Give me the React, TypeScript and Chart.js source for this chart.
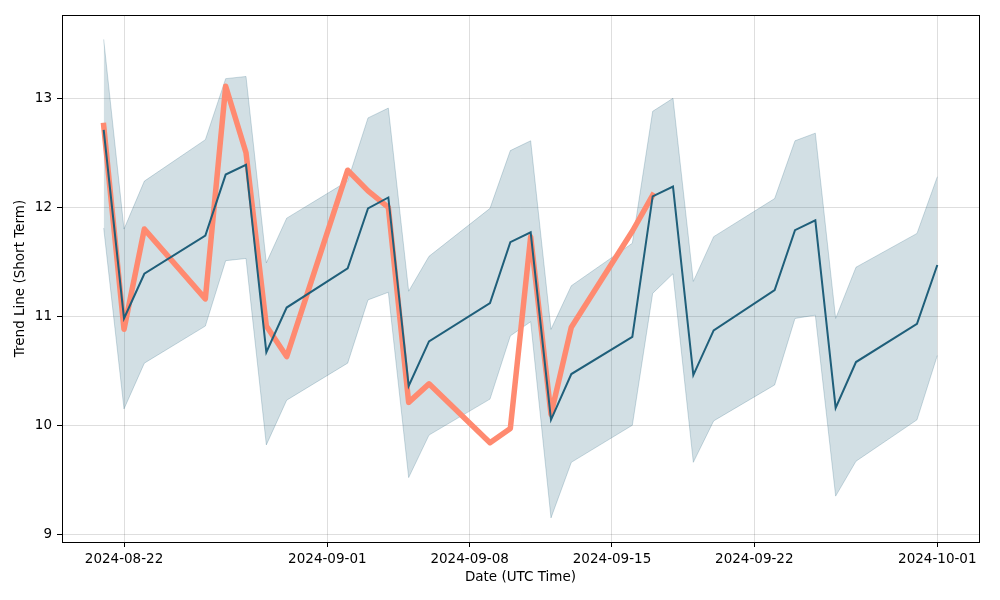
import React, { useEffect, useRef } from "react";
import { Chart, registerables } from "chart.js";

Chart.register(...registerables);

const dates = [
  "2024-08-21", "2024-08-22", "2024-08-23", "2024-08-26", "2024-08-27", "2024-08-28",
  "2024-08-29", "2024-08-30", "2024-09-02", "2024-09-03", "2024-09-04", "2024-09-05",
  "2024-09-06", "2024-09-09", "2024-09-10", "2024-09-11", "2024-09-12", "2024-09-13",
  "2024-09-16", "2024-09-17", "2024-09-18", "2024-09-19", "2024-09-20", "2024-09-23",
  "2024-09-24", "2024-09-25", "2024-09-26", "2024-09-27", "2024-09-30", "2024-10-01",
];

const trendMean = [
  12.71, 10.98, 11.39, 11.74, 12.30, 12.39, 10.67, 11.08, 11.44, 11.99, 12.09, 10.36,
  10.77, 11.12, 11.68, 11.77, 10.05, 10.47, 10.81, 12.10, 12.19, 10.46, 10.87, 11.24,
  11.79, 11.88, 10.16, 10.58, 10.93, 11.47,
];

const trendUpper = [
  13.54, 11.80, 12.24, 12.62, 13.18, 13.20, 11.49, 11.90, 12.24, 12.82, 12.91, 11.23,
  11.55, 11.99, 12.52, 12.61, 10.88, 11.28, 11.67, 12.88, 13.00, 11.32, 11.73, 12.08,
  12.61, 12.68, 10.98, 11.45, 11.76, 12.28,
];

const trendLower = [
  11.81, 10.15, 10.57, 10.91, 11.51, 11.53, 9.82, 10.23, 10.57, 11.15, 11.22, 9.52,
  9.91, 10.24, 10.82, 10.95, 9.15, 9.66, 10.00, 11.21, 11.39, 9.66, 10.04, 10.37,
  10.98, 11.01, 9.35, 9.67, 10.05, 10.64,
];

const actual: (number | null)[] = [
  12.75, 10.88, 11.80, 11.16, 13.11, 12.50, 10.91, 10.63, 12.34, 12.15, 12.00, 10.21,
  10.38, 9.84, 9.97, 11.73, 10.10, 10.90, 11.78, 12.11, null, null, null, null,
  null, null, null, null, null, null,
];

const xTickDates = ["2024-08-22", "2024-09-01", "2024-09-08", "2024-09-15", "2024-09-22", "2024-10-01"];
const yTicks = [9, 10, 11, 12, 13];

const DAY = 86400000;
const origin = Date.parse(dates[0] + "T00:00:00Z");
const toDay = (s: string) => (Date.parse(s + "T00:00:00Z") - origin) / DAY;

const FONT = "'DejaVu Sans', sans-serif";

const frame = {
  id: "frame",
  afterDraw(chart: any) {
    const { ctx, chartArea } = chart;
    ctx.save();
    ctx.strokeStyle = "#000";
    ctx.lineWidth = 1;
    ctx.strokeRect(
      Math.round(chartArea.left) + 0.5,
      Math.round(chartArea.top) + 0.5,
      Math.round(chartArea.right - chartArea.left),
      Math.round(chartArea.bottom - chartArea.top)
    );
    ctx.restore();
  },
};

export default function App() {
  const ref = useRef<HTMLCanvasElement | null>(null);

  useEffect(() => {
    if (!ref.current) return;
    const xs = dates.map(toDay);
    const pts = (arr: (number | null)[]) => arr.map((v, i) => ({ x: xs[i], y: v }));
    const tickDays = xTickDates.map(toDay);

    const chart = new Chart(ref.current, {
      type: "line",
      data: {
        datasets: [
          {
            label: "Trend",
            data: pts(trendMean) as any,
            borderColor: "#1f5f7a",
            borderWidth: 2,
            pointRadius: 0,
            fill: false,
          },
          {
            label: "Actual",
            data: pts(actual) as any,
            borderColor: "#ff8a70",
            borderWidth: 5.5,
            pointRadius: 0,
            borderJoinStyle: "round",
            borderCapStyle: "square",
            spanGaps: false,
            fill: false,
          },
          {
            label: "Upper",
            data: pts(trendUpper) as any,
            borderColor: "rgba(31,95,122,0.22)",
            borderWidth: 1,
            pointRadius: 0,
            fill: false,
          },
          {
            label: "Lower",
            data: pts(trendLower) as any,
            borderColor: "rgba(31,95,122,0.22)",
            borderWidth: 1,
            pointRadius: 0,
            backgroundColor: "rgba(31,95,122,0.2)",
            fill: "-1",
          },
        ],
      },
      options: {
        animation: false,
        responsive: true,
        maintainAspectRatio: false,
        layout: { padding: { left: 0, top: 15, right: 21, bottom: 0 } },
        plugins: {
          legend: { display: false },
          tooltip: { enabled: false },
        },
        elements: { line: { tension: 0 } },
        scales: {
          x: {
            type: "linear",
            min: -2.05,
            max: 43.05,
            afterBuildTicks: (scale: any) => {
              scale.ticks = tickDays.map((v) => ({ value: v }));
            },
            afterFit: (scale: any) => {
              scale.height = 58;
            },
            ticks: {
              autoSkip: false,
              maxRotation: 0,
              padding: 4,
              color: "#000",
              font: { family: FONT, size: 13.5 },
              callback: (v: any) => {
                const i = tickDays.indexOf(Number(v));
                return i >= 0 ? xTickDates[i] : "";
              },
            },
            grid: {
              color: "rgba(0,0,0,0.13)",
              tickColor: "#000",
              tickLength: 5,
            },
            border: { display: false },
            title: {
              display: true,
              text: "Date (UTC Time)",
              color: "#000",
              font: { family: FONT, size: 13.5 },
              padding: { top: 0, bottom: 14 },
            },
          },
          y: {
            type: "linear",
            min: 8.929,
            max: 13.764,
            afterBuildTicks: (scale: any) => {
              scale.ticks = yTicks.map((v) => ({ value: v }));
            },
            afterFit: (scale: any) => {
              scale.width = 62;
            },
            ticks: {
              padding: 5,
              color: "#000",
              font: { family: FONT, size: 13.5 },
              callback: (v: any) => String(v),
            },
            grid: {
              color: "rgba(0,0,0,0.13)",
              tickColor: "#000",
              tickLength: 5,
            },
            border: { display: false },
            title: {
              display: true,
              text: "Trend Line (Short Term)",
              color: "#000",
              font: { family: FONT, size: 13.5 },
              padding: { top: 12, bottom: 0 },
            },
          },
        },
      },
      plugins: [frame],
    } as any);

    return () => chart.destroy();
  }, []);

  return (
    <div style={{ position: "absolute", left: 0, top: 0, width: 1000, height: 600, background: "#fff" }}>
      <canvas ref={ref} />
    </div>
  );
}
